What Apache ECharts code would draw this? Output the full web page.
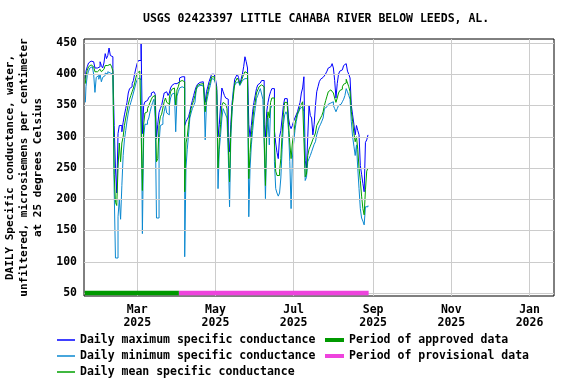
<!DOCTYPE html>
<html>
<head>
<meta charset="utf-8">
<script src="https://cdn.jsdelivr.net/npm/echarts@6/dist/echarts.min.js"></script>
<style>
html,body{margin:0;padding:0;background:#fff;}
#chart{width:576px;height:384px;}
</style>
</head>
<body>
<div id="chart"></div>
<script>
// ---- data ----
const startDate = [2025, 0, 19]; // first daily value (Jan 19, 2025)
const maxValues = [
393,405,412,418,421,421,422,420,410,409,
410,412,420,414,410,418,433,425,430,442,
430,428,409,318,250,210,305,318,318,308,
323,335,345,355,370,377,380,385,390,401,
410,418,422,422,449,305,350,356,358,360,
363,366,370,372,374,368,297,320,339,345,
350,360,370,372,371,366,370,378,382,385,
386,386,385,388,394,396,396,396,318,324,
328,332,340,350,358,366,374,380,384,387,
388,388,388,386,355,372,380,388,394,400,
401,400,392,380,300,320,350,378,372,366,
362,360,300,276,320,355,372,392,396,400,
395,384,392,400,412,428,420,410,320,300,
318,340,355,366,377,383,386,388,390,390,
320,300,340,355,365,372,377,377,310,290,
275,265,300,310,330,350,361,361,361,330,
318,313,318,325,330,335,340,348,355,370,
378,396,262,250,300,350,334,330,303,320,
350,372,380,388,392,395,398,399,401,405,
410,412,414,417,410,390,362,385,400,405,
407,410,414,417,415,405,400,394,350,335,
320,303,318,310,303,254,240,225,212,291,
295,303
];
const minValues = [
355,380,398,405,410,412,410,400,371,395,
398,392,400,388,395,398,402,400,404,403,
402,400,400,215,106,106,172,200,168,222,
270,295,310,325,338,348,355,362,370,378,
386,392,394,394,390,145,300,320,320,325,
330,340,348,355,360,330,170,170,290,318,
320,330,340,350,338,335,350,362,368,370,
372,308,365,372,378,380,380,378,108,250,
280,303,330,338,345,350,355,375,380,382,
383,383,382,378,295,355,365,375,382,393,
394,392,385,366,217,280,303,330,345,340,
335,330,270,188,300,340,377,382,386,388,
385,382,386,390,393,395,393,385,172,250,
287,310,330,345,361,366,372,377,378,360,
290,201,300,330,287,345,350,350,260,217,
210,205,210,234,280,320,335,340,335,310,
260,185,266,290,310,324,335,340,345,348,
350,340,230,235,260,265,270,276,282,288,
292,303,310,316,320,325,330,345,348,350,
352,354,355,356,350,345,340,345,350,352,
350,356,360,366,377,372,366,360,324,300,
285,270,287,250,217,185,170,165,159,188,
188,190
];
const meanValues = [
385,398,406,412,415,416,416,412,404,404,
405,405,408,404,405,408,414,414,415,416,
414,412,405,240,195,190,250,290,260,290,
300,318,330,340,352,360,366,372,378,386,
395,402,405,405,404,214,320,338,340,345,
350,355,360,364,366,355,260,265,318,332,
336,346,356,362,355,352,362,372,376,378,
379,350,375,380,388,390,390,388,212,290,
300,320,335,345,352,358,366,376,382,384,
385,385,385,382,340,362,372,382,388,396,
397,396,388,374,250,295,320,350,355,352,
350,345,290,228,310,348,365,385,390,394,
390,384,388,394,400,404,402,396,233,275,
303,325,345,355,370,375,380,383,384,380,
300,222,320,340,330,355,362,362,290,245,
238,238,245,265,305,335,355,355,350,320,
290,265,290,305,320,330,338,342,348,352,
356,355,236,240,270,280,285,290,296,300,
306,318,322,326,330,334,340,350,358,365,
372,375,377,376,370,362,355,362,370,374,
376,380,384,386,392,386,380,372,340,325,
305,292,300,280,250,230,205,185,175,215,
245,250
];
const approvedPeriod = ['2025-01-19T00:00', '2025-04-02T12:00'];
const provisionalPeriod = ['2025-04-02T12:00', '2025-08-28T12:00'];
const periodLevel = 50;
const xRange = ['2025-01-18T11:00', '2026-01-20T02:00'];
const xTickDates = ['2025-03-01T00:00', '2025-05-01T00:00', '2025-07-01T00:00', '2025-09-01T00:00', '2025-11-01T00:00', '2026-01-01T00:00'];
const xTickLabels = ['Mar\n2025', 'May\n2025', 'Jul\n2025', 'Sep\n2025', 'Nov\n2025', 'Jan\n2026'];
const yTicks = [50, 100, 150, 200, 250, 300, 350, 400, 450];
const titleText = 'USGS 02423397 LITTLE CAHABA RIVER BELOW LEEDS, AL.';
const yName = 'DAILY Specific conductance, water,\nunfiltered, microsiemens per centimeter\nat 25 degrees Celsius';
const seriesNames = ['Daily maximum specific conductance', 'Daily minimum specific conductance', 'Daily mean specific conductance'];
const periodNames = ['Period of approved data', 'Period of provisional data'];

// ---- build ----
function ts(s) {
  const [d, t] = s.split('T');
  const [y, m, day] = d.split('-').map(Number);
  const [hh, mm] = t.split(':').map(Number);
  return new Date(y, m - 1, day, hh, mm).getTime();
}
function dayTs(i) {
  return new Date(startDate[0], startDate[1], startDate[2] + i, 12, 0, 0).getTime();
}
const toPairs = arr => arr.map((v, i) => [dayTs(i), v]);
const xTickTimes = xTickDates.map(ts);

const F = '"DejaVu Sans Mono", "Liberation Mono", monospace';
const txt = { fontFamily: F, fontWeight: 'bold', color: '#000', fontSize: 11.5 };

const chart = echarts.init(document.getElementById('chart'), null, { renderer: 'canvas' });
const option = {
  animation: false,
  backgroundColor: '#ffffff',
  title: { text: titleText, left: 143, top: 13, padding: 0, textStyle: Object.assign({}, txt) },
  grid: { left: 84, right: 22, top: 39, bottom: 88, show: true, borderColor: '#000', borderWidth: 1,
    backgroundColor: 'rgba(0,0,0,0)', containLabel: false, outerBoundsMode: 'none' },
  legend: [
    { data: seriesNames.map(n => ({ name: n, icon: 'rect' })), orient: 'vertical', left: 57, top: 333, padding: 0, itemWidth: 18, itemHeight: 1.5, itemGap: 2,
      textStyle: Object.assign({}, txt, { lineHeight: 14 }) },
    { data: periodNames.map(n => ({ name: n, icon: 'rect' })), orient: 'vertical', left: 325, top: 333, padding: 0, itemWidth: 19, itemHeight: 4, itemGap: 2,
      textStyle: Object.assign({}, txt, { lineHeight: 14 }) }
  ],
  xAxis: {
    type: 'value',
    min: ts(xRange[0]), max: ts(xRange[1]),
    axisLine: { show: false }, axisTick: { show: false },
    splitLine: { show: false },
    axisLabel: {
      customValues: xTickTimes, margin: 8, lineHeight: 13,
      fontFamily: F, fontWeight: 'bold', color: '#000', fontSize: 11.5,
      formatter: function (v) {
        const idx = xTickTimes.findIndex(t => Math.abs(t - v) < 43200000);
        return idx >= 0 ? xTickLabels[idx] : '';
      }
    }
  },
  yAxis: {
    type: 'value', min: 45.2, max: 456.4,
    axisLine: { show: false }, axisTick: { show: false },
    splitLine: { show: false },
    axisLabel: { customValues: yTicks, margin: 7, fontFamily: F, fontWeight: 'bold', color: '#000', fontSize: 11.5 },
    name: yName, nameLocation: 'middle', nameGap: 35,
    nameTextStyle: { fontFamily: F, fontWeight: 'bold', color: '#000', fontSize: 11, lineHeight: 14 }
  },
  series: [
    { name: 'grid', type: 'line', data: [], z: 1, silent: true,
      markLine: {
        silent: true, symbol: ['none', 'none'], animation: false, label: { show: false },
        lineStyle: { color: '#cccccc', width: 1, type: 'solid' },
        emphasis: { disabled: true },
        data: xTickTimes.map(t => ({ xAxis: t })).concat(yTicks.map(v => ({ yAxis: v })))
      } },
    { name: periodNames[0], type: 'line', data: [[ts(approvedPeriod[0]), periodLevel], [ts(approvedPeriod[1]), periodLevel]],
      symbol: 'none', lineStyle: { width: 4.5, color: '#009900' }, itemStyle: { color: '#009900' }, z: 5 },
    { name: periodNames[1], type: 'line', data: [[ts(provisionalPeriod[0]), periodLevel], [ts(provisionalPeriod[1]), periodLevel]],
      symbol: 'none', lineStyle: { width: 4.5, color: '#ee44dd' }, itemStyle: { color: '#ee44dd' }, z: 5 },
    { name: seriesNames[0], type: 'line', step: 'middle', data: toPairs(maxValues), symbol: 'none',
      lineStyle: { width: 1, color: '#0000ff' }, itemStyle: { color: '#0000ff' }, z: 2 },
    { name: seriesNames[1], type: 'line', step: 'middle', data: toPairs(minValues), symbol: 'none',
      lineStyle: { width: 1, color: '#0a88d0' }, itemStyle: { color: '#0a88d0' }, z: 3 },
    { name: seriesNames[2], type: 'line', step: 'middle', data: toPairs(meanValues), symbol: 'none',
      lineStyle: { width: 1, color: '#00a000' }, itemStyle: { color: '#00a000' }, z: 4 }
  ]
};
chart.setOption(option);
</script>
</body>
</html>
